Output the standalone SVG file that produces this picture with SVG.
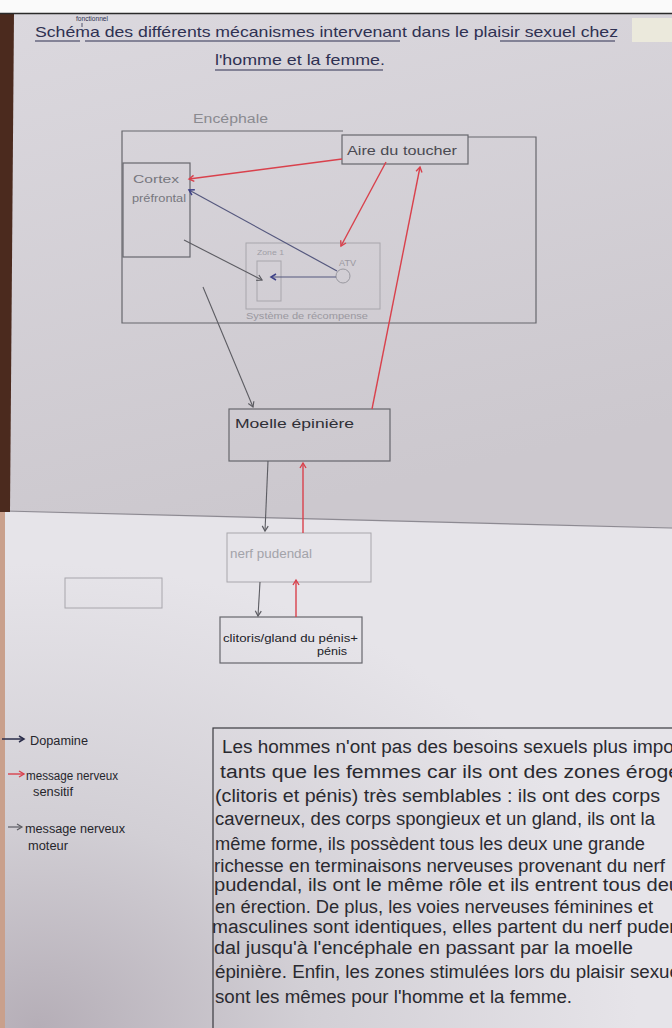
<svg xmlns="http://www.w3.org/2000/svg" width="672" height="1028" viewBox="0 0 672 1028">
<style>
.hw{font-family:"Liberation Sans","DejaVu Sans",sans-serif;}
.title{font-size:15px;fill:#2f3152;}
.body{font-size:18px;fill:#2a2a30;}
.leg{font-size:12px;fill:#26262c;}
.box{fill:none;stroke:#67676d;stroke-width:1.2;}
.faint{fill:none;stroke:#a8a6ac;stroke-width:1;}
.red{stroke:#d9414c;stroke-width:1.4;fill:none;}
.gray{stroke:#5c5c62;stroke-width:1.1;fill:none;}
.blue{stroke:#55587e;stroke-width:1.2;fill:none;}
.ul{stroke:#2f3152;stroke-width:1.2;}
</style>
<defs>
<marker id="mr" markerWidth="8" markerHeight="8" refX="6" refY="4" orient="auto" markerUnits="userSpaceOnUse"><path d="M1,1 L6,4 L1,7" fill="none" stroke="#d9414c" stroke-width="1.4"/></marker>
<marker id="mg" markerWidth="8" markerHeight="8" refX="6" refY="4" orient="auto" markerUnits="userSpaceOnUse"><path d="M1,1 L6,4 L1,7" fill="none" stroke="#5c5c62" stroke-width="1.2"/></marker>
<marker id="mb" markerWidth="8" markerHeight="8" refX="6" refY="4" orient="auto" markerUnits="userSpaceOnUse"><path d="M1,1 L6,4 L1,7" fill="none" stroke="#3e4188" stroke-width="1.5"/></marker>
<marker id="mn" markerWidth="8" markerHeight="8" refX="6" refY="4" orient="auto" markerUnits="userSpaceOnUse"><path d="M1,1 L6,4 L1,7" fill="none" stroke="#2a2d4a" stroke-width="1.5"/></marker>
<linearGradient id="gu" x1="0" y1="0" x2="0.3" y2="1"><stop offset="0" stop-color="#dbd8de"/><stop offset="1" stop-color="#ccc8ce"/></linearGradient>
<radialGradient id="gl" cx="0.05" cy="1" r="0.9"><stop offset="0" stop-color="#b5aeb7"/><stop offset="0.45" stop-color="#d2cfd5"/><stop offset="1" stop-color="#e6e4e9"/></radialGradient>
</defs>
<g id="background">
<rect x="0" y="0" width="672" height="1028" fill="#dedbe1"/>
<rect x="0" y="0" width="672" height="13" fill="#fafafa"/>
<polygon points="10,14 672,14 672,528 5,511" fill="url(#gu)"/>
<polygon points="5,512 672,529 672,1028 5,1028" fill="url(#gl)"/>
<line x1="5" y1="511" x2="672" y2="528" stroke="#8d8a92" stroke-width="1.2"/>
<polygon points="0,13 14,13 10,512 0,512" fill="#4b2a1e"/>
<rect x="0" y="512" width="5" height="516" fill="#c9a08c"/>
<line x1="0" y1="13.5" x2="672" y2="13.5" stroke="#2a2a2a" stroke-width="1.5"/>
<rect x="632" y="18" width="40" height="24" fill="#ebe9dc"/>
</g>
<g id="title" class="hw">
<text x="76" y="21" font-size="7" fill="#2f3152" class="hw" textLength="32" lengthAdjust="spacingAndGlyphs">fonctionnel</text>
<line x1="82" y1="23" x2="82" y2="27" stroke="#2f3152" stroke-width="0.8"/>
<text class="title" x="35" y="37" textLength="583" lengthAdjust="spacingAndGlyphs">Schéma des différents mécanismes intervenant dans le plaisir sexuel chez</text>
<text class="title" x="215" y="65" textLength="170" lengthAdjust="spacingAndGlyphs">l'homme et la femme.</text>
<line class="ul" x1="35" y1="41" x2="80" y2="41"/>
<line class="ul" x1="85" y1="41" x2="400" y2="41"/>
<line class="ul" x1="500" y1="41" x2="615" y2="41"/>
<line class="ul" x1="215" y1="70" x2="383" y2="70"/>
</g>
<g id="encephale">
<polyline class="box" points="343,131 122,131 122,323 536,323 536,137 468,137"/>
<text class="hw" x="193" y="123" font-size="12" fill="#8a8a90" textLength="75" lengthAdjust="spacingAndGlyphs">Encéphale</text>
</g>
<g id="aire-toucher">
<rect class="box" x="342" y="135" width="126" height="29"/>
<text class="hw" x="347" y="155" font-size="12" fill="#4a4a52" textLength="110" lengthAdjust="spacingAndGlyphs">Aire du toucher</text>
</g>
<g id="cortex">
<rect class="box" x="123" y="163" width="67" height="94"/>
<text class="hw" x="133" y="183" font-size="11" fill="#77777e" textLength="46" lengthAdjust="spacingAndGlyphs">Cortex</text>
<text class="hw" x="132" y="202" font-size="11" fill="#77777e" textLength="54" lengthAdjust="spacingAndGlyphs">préfrontal</text>
</g>
<g id="systeme-recompense">
<rect class="faint" x="246" y="243" width="134" height="66" stroke="#8e8d94"/>
<text class="hw" x="246" y="319" font-size="9" fill="#9a98a0" textLength="122" lengthAdjust="spacingAndGlyphs">Système de récompense</text>
<text class="hw" x="257" y="255" font-size="8" fill="#a09ea6" textLength="27" lengthAdjust="spacingAndGlyphs">Zone 1</text>
<rect class="faint" x="257" y="261" width="24" height="40" stroke="#8e8d94"/>
<circle cx="343" cy="276" r="7" fill="none" stroke="#9a99a0" stroke-width="1"/>
<text class="hw" x="339" y="266" font-size="9" fill="#9a98a0" textLength="17" lengthAdjust="spacingAndGlyphs">ATV</text>
</g>
<g id="moelle">
<rect class="box" x="229" y="409" width="161" height="52"/>
<text class="hw" x="235" y="428" font-size="13" fill="#2f2f36" textLength="119" lengthAdjust="spacingAndGlyphs">Moelle épinière</text>
</g>
<g id="nerf-pudendal">
<rect class="faint" x="227" y="533" width="144" height="49" stroke="#a0a0a6"/>
<text class="hw" x="230" y="558" font-size="12" fill="#a3a3a9" textLength="82" lengthAdjust="spacingAndGlyphs">nerf pudendal</text>
</g>
<g id="clitoris">
<rect class="box" x="220" y="617" width="142" height="46" stroke="#3c3c42"/>
<text class="hw" x="223" y="642" font-size="11" fill="#222228" textLength="135" lengthAdjust="spacingAndGlyphs">clitoris/gland du pénis+</text>
<text class="hw" x="317" y="655" font-size="11" fill="#222228" textLength="30" lengthAdjust="spacingAndGlyphs">pénis</text>
</g>
<g id="faint-box">
<rect class="faint" x="65" y="578" width="97" height="30"/>
</g>
<g id="connectors">
<line class="red" x1="342" y1="159" x2="189" y2="179" marker-end="url(#mr)"/>
<line class="red" x1="386" y1="162" x2="341" y2="246" marker-end="url(#mr)"/>
<line class="red" x1="372" y1="409" x2="420" y2="167" marker-end="url(#mr)"/>
<line class="blue" x1="337" y1="271" x2="189" y2="190" stroke="#56566a" marker-end="url(#mb)"/>
<line class="blue" x1="336" y1="277" x2="271" y2="277" stroke="#6a6d9a" marker-end="url(#mb)"/>
<line class="gray" x1="184" y1="240" x2="262" y2="280" stroke="#3e3e44" marker-end="url(#mg)"/>
<line class="gray" x1="203" y1="287" x2="253" y2="407" marker-end="url(#mg)"/>
<line class="gray" x1="268" y1="461" x2="265" y2="531" marker-end="url(#mg)"/>
<line class="red" x1="303" y1="533" x2="303" y2="463" marker-end="url(#mr)"/>
<line class="gray" x1="260" y1="582" x2="258" y2="616" marker-end="url(#mg)"/>
<line class="red" x1="296" y1="617" x2="296" y2="580" marker-end="url(#mr)"/>
</g>
<g id="legend">
<line x1="2" y1="739" x2="24" y2="739" stroke="#2a2d4a" stroke-width="1.5" marker-end="url(#mn)"/>
<text class="hw leg" x="30" y="745" textLength="58" lengthAdjust="spacingAndGlyphs">Dopamine</text>
<line x1="8" y1="774" x2="24" y2="774" stroke="#d9414c" stroke-width="1.4" marker-end="url(#mr)"/>
<text class="hw leg" x="26" y="780" textLength="92" lengthAdjust="spacingAndGlyphs">message nerveux</text>
<text class="hw leg" x="33" y="796" textLength="40" lengthAdjust="spacingAndGlyphs">sensitif</text>
<line x1="8" y1="827" x2="22" y2="827" stroke="#5c5c62" stroke-width="1.2" marker-end="url(#mg)"/>
<text class="hw leg" x="25" y="833" textLength="100" lengthAdjust="spacingAndGlyphs">message nerveux</text>
<text class="hw leg" x="28" y="850" textLength="40" lengthAdjust="spacingAndGlyphs">moteur</text>
</g>
<g id="text-box">
<rect x="213" y="728" width="480" height="320" fill="none" stroke="#3a3a40" stroke-width="1.2"/>
<g class="hw body">
<text x="222" y="753" textLength="458" lengthAdjust="spacingAndGlyphs">Les hommes n'ont pas des besoins sexuels plus impor</text>
<text x="220" y="778" textLength="460" lengthAdjust="spacingAndGlyphs">tants que les femmes car ils ont des zones éroge</text>
<text x="215" y="802" textLength="445" lengthAdjust="spacingAndGlyphs">(clitoris et pénis) très semblables : ils ont des corps</text>
<text x="215" y="825" textLength="440" lengthAdjust="spacingAndGlyphs">caverneux, des corps spongieux et un gland, ils ont la</text>
<text x="215" y="850" textLength="430" lengthAdjust="spacingAndGlyphs">même forme, ils possèdent tous les deux une grande</text>
<text x="214" y="872" textLength="451" lengthAdjust="spacingAndGlyphs">richesse en terminaisons nerveuses provenant du nerf</text>
<text x="214" y="891" textLength="466" lengthAdjust="spacingAndGlyphs">pudendal, ils ont le même rôle et ils entrent tous deu</text>
<text x="215" y="913" textLength="438" lengthAdjust="spacingAndGlyphs">en érection. De plus, les voies nerveuses féminines et</text>
<text x="212" y="933" textLength="468" lengthAdjust="spacingAndGlyphs">masculines sont identiques, elles partent du nerf puden</text>
<text x="214" y="954" textLength="419" lengthAdjust="spacingAndGlyphs">dal jusqu'à l'encéphale en passant par la moelle</text>
<text x="215" y="978" textLength="465" lengthAdjust="spacingAndGlyphs">épinière. Enfin, les zones stimulées lors du plaisir sexue</text>
<text x="215" y="1003" textLength="357" lengthAdjust="spacingAndGlyphs">sont les mêmes pour l'homme et la femme.</text>
</g>
</g>
</svg>
